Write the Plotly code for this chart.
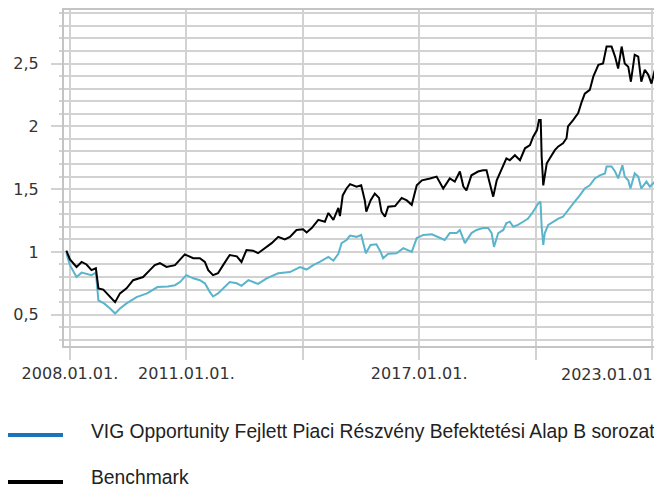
import plotly.graph_objects as go

# ---------------- data ----------------
bench_dates = [
    "2007-11-28", "2008-01-01", "2008-03-03", "2008-04-20", "2008-06-05", "2008-07-22",
    "2008-09-01", "2008-09-25", "2008-11-10", "2008-12-28", "2009-03-01", "2009-04-16",
    "2009-06-17", "2009-08-18", "2009-11-20", "2010-01-22", "2010-03-10", "2010-04-27",
    "2010-06-28", "2010-09-16", "2010-11-02", "2010-12-17", "2011-03-07", "2011-05-08",
    "2011-06-24", "2011-07-26", "2011-09-09", "2011-10-26", "2011-12-13", "2012-02-13",
    "2012-04-20", "2012-06-03", "2012-07-20", "2012-09-20", "2012-11-06", "2013-01-11",
    "2013-03-14", "2013-05-15", "2013-07-16", "2013-09-02", "2013-11-03", "2014-01-04",
    "2014-02-06", "2014-03-26", "2014-05-27", "2014-07-28", "2014-08-30", "2014-10-16",
    "2014-12-02", "2014-12-17", "2015-01-12", "2015-02-17", "2015-03-22", "2015-05-22",
    "2015-07-05", "2015-08-08", "2015-08-22", "2015-10-01", "2015-11-10", "2015-12-20",
    "2016-01-12", "2016-02-14", "2016-03-15", "2016-05-19", "2016-07-20", "2016-09-06",
    "2016-10-23", "2016-12-09", "2017-01-27", "2017-04-13", "2017-06-14", "2017-08-15",
    "2017-10-16", "2017-12-02", "2018-01-19", "2018-02-21", "2018-03-22", "2018-05-08",
    "2018-07-09", "2018-08-25", "2018-09-27", "2018-10-23", "2018-11-29", "2019-01-01",
    "2019-02-17", "2019-04-02", "2019-05-04", "2019-06-21", "2019-08-08", "2019-09-24",
    "2019-11-10", "2019-12-09", "2020-01-15", "2020-02-03", "2020-02-19", "2020-02-28",
    "2020-03-14", "2020-03-28", "2020-04-16", "2020-05-15", "2020-07-01", "2020-08-03",
    "2020-09-16", "2020-10-19", "2020-11-02", "2020-12-20", "2021-02-06", "2021-03-11",
    "2021-04-09", "2021-05-26", "2021-06-28", "2021-08-15", "2021-09-28", "2021-10-31",
    "2021-12-17", "2022-01-19", "2022-02-17", "2022-03-22", "2022-04-20", "2022-05-23",
    "2022-06-17", "2022-07-23", "2022-08-25", "2022-09-23", "2022-10-26", "2022-11-28",
    "2022-12-28", "2023-01-29",
]
bench_values = [
    1.01, 0.94, 0.88, 0.92, 0.90, 0.855,
    0.87, 0.71, 0.70, 0.66, 0.60, 0.67,
    0.71, 0.775, 0.80, 0.855, 0.895, 0.91,
    0.88, 0.895, 0.935, 0.98, 0.95, 0.95,
    0.92, 0.855, 0.815, 0.83, 0.895, 0.975,
    0.965, 0.92, 1.015, 1.01, 0.99, 1.03,
    1.07, 1.12, 1.10, 1.12, 1.175, 1.18,
    1.155, 1.19, 1.255, 1.24, 1.31, 1.255,
    1.35, 1.285, 1.45, 1.505, 1.54, 1.52,
    1.53, 1.41, 1.32, 1.41, 1.465, 1.43,
    1.32, 1.28, 1.36, 1.365, 1.43, 1.41,
    1.375, 1.53, 1.57, 1.585, 1.60, 1.505,
    1.585, 1.56, 1.64, 1.52, 1.49, 1.61,
    1.64, 1.65, 1.65, 1.56, 1.44, 1.57,
    1.665, 1.745, 1.73, 1.77, 1.73, 1.825,
    1.85, 1.915, 1.97, 2.05, 2.05, 1.76,
    1.53, 1.60, 1.705, 1.745, 1.81, 1.84,
    1.865, 1.905, 2.00, 2.05, 2.105, 2.195,
    2.26, 2.29, 2.395, 2.49, 2.50, 2.635,
    2.635, 2.555, 2.46, 2.635, 2.50, 2.475,
    2.355, 2.57, 2.555, 2.355, 2.45, 2.41,
    2.34, 2.45,
]

fund_dates = [
    "2007-11-28", "2008-01-01", "2008-03-03", "2008-04-20", "2008-07-22", "2008-09-01",
    "2008-09-25", "2008-11-17", "2009-01-13", "2009-03-01", "2009-04-16", "2009-06-17",
    "2009-09-19", "2009-12-27", "2010-04-04", "2010-07-11", "2010-09-16", "2010-11-02",
    "2011-01-01", "2011-03-07", "2011-05-08", "2011-06-24", "2011-08-11", "2011-09-09",
    "2011-10-26", "2011-12-13", "2012-02-13", "2012-04-20", "2012-06-03", "2012-08-07",
    "2012-11-06", "2013-01-26", "2013-05-15", "2013-09-02", "2013-12-06", "2014-02-06",
    "2014-04-09", "2014-06-10", "2014-08-30", "2014-10-16", "2014-12-02", "2015-01-01",
    "2015-02-17", "2015-03-22", "2015-05-22", "2015-07-05", "2015-08-18", "2015-10-01",
    "2015-11-25", "2016-01-04", "2016-01-27", "2016-03-15", "2016-06-02", "2016-08-04",
    "2016-10-23", "2016-12-09", "2017-02-10", "2017-04-30", "2017-06-28", "2017-08-29",
    "2017-10-16", "2017-12-20", "2018-01-19", "2018-03-07", "2018-05-08", "2018-06-25",
    "2018-08-25", "2018-10-12", "2018-11-14", "2018-12-06", "2019-01-15", "2019-03-04",
    "2019-04-02", "2019-05-04", "2019-06-06", "2019-07-20", "2019-09-06", "2019-10-23",
    "2019-12-09", "2020-01-26", "2020-02-17", "2020-02-28", "2020-03-14", "2020-03-28",
    "2020-04-30", "2020-06-17", "2020-08-03", "2020-09-16", "2020-11-02", "2020-12-20",
    "2021-02-21", "2021-04-09", "2021-05-26", "2021-07-13", "2021-08-29", "2021-10-16",
    "2021-10-31", "2021-12-17", "2022-01-19", "2022-02-17", "2022-03-29", "2022-04-20",
    "2022-05-23", "2022-06-13", "2022-07-23", "2022-08-25", "2022-09-23", "2022-11-10",
    "2022-12-13", "2023-01-29",
]
fund_values = [
    0.99, 0.895, 0.80, 0.835, 0.815, 0.835,
    0.615, 0.59, 0.55, 0.51, 0.55, 0.59,
    0.64, 0.67, 0.72, 0.725, 0.735, 0.76,
    0.815, 0.79, 0.775, 0.75, 0.68, 0.645,
    0.67, 0.71, 0.76, 0.75, 0.73, 0.775,
    0.745, 0.79, 0.83, 0.84, 0.88, 0.86,
    0.895, 0.92, 0.96, 0.93, 0.985, 1.07,
    1.095, 1.13, 1.12, 1.135, 0.99, 1.055,
    1.06, 1.00, 0.95, 0.985, 0.99, 1.03,
    1.00, 1.11, 1.135, 1.14, 1.12, 1.095,
    1.15, 1.15, 1.175, 1.07, 1.15, 1.175,
    1.19, 1.19, 1.15, 1.04, 1.15, 1.175,
    1.23, 1.24, 1.20, 1.215, 1.24, 1.265,
    1.32, 1.385, 1.40, 1.20, 1.055, 1.15,
    1.215, 1.24, 1.265, 1.28, 1.335, 1.385,
    1.45, 1.505, 1.53, 1.585, 1.61, 1.625,
    1.68, 1.68, 1.64, 1.585, 1.69, 1.60,
    1.57, 1.505, 1.625, 1.60, 1.505, 1.56,
    1.52, 1.56,
]

x_tick_dates = ["2008-01-01", "2011-01-01", "2014-01-01", "2017-01-01", "2020-01-01", "2023-01-01"]
x_tick_labels = ["2008.01.01.", "2011.01.01.", "", "2017.01.01.", "", ""]
x_last_label = "2023.01.01."
y_tick_values = [0.5, 1.0, 1.5, 2.0, 2.5]
y_tick_labels = ["0,5", "1", "1,5", "2", "2,5"]

fund_name = "VIG Opportunity Fejlett Piaci Részvény Befektetési Alap B sorozat"
bench_name = "Benchmark"

# ---------------- layout geometry (window pixels) ----------------
W, H = 662, 487
BODY = 8                       # default page body margin offsets the figure
PLOT_L, PLOT_R, PLOT_T, PLOT_B = 64, 655, 10, 346
ML = PLOT_L - BODY
MT = PLOT_T - BODY
MR = W - (PLOT_R - BODY)
MB = H - (PLOT_B - BODY)
PW = PLOT_R - PLOT_L
PH = PLOT_B - PLOT_T

def px_x(px):
    return (px - PLOT_L) / PW

def px_y(py):
    return (PLOT_B - py) / PH

GRID = "#d2d2d2"
AXIS = "#c4c4c4"
FUND_COLOR = "#5ab4cc"
FUND_LEGEND = "#1b74b9"
TICK_FONT = dict(family="DejaVu Sans", size=16, color="#333333")

fig = go.Figure()
fig.add_trace(go.Scatter(x=fund_dates, y=fund_values, mode="lines", name=fund_name,
                         line=dict(color=FUND_COLOR, width=2), showlegend=False))
fig.add_trace(go.Scatter(x=bench_dates, y=bench_values, mode="lines", name=bench_name,
                         line=dict(color="#000000", width=2), showlegend=False))

fig.update_layout(
    width=W, height=H,
    margin=dict(l=ML, r=MR, t=MT, b=MB, pad=0),
    paper_bgcolor="white", plot_bgcolor="white",
    font=TICK_FONT,
    showlegend=False,
)
fig.update_xaxes(
    type="date", range=["2007-11-06", "2023-01-30"],
    tickmode="array", tickvals=x_tick_dates, ticktext=x_tick_labels,
    ticks="outside", ticklen=12, tickwidth=2, tickcolor=GRID,
    showgrid=True, gridcolor=GRID, gridwidth=2,
    showline=True, linecolor=AXIS, linewidth=2, mirror=True,
    zeroline=False, tickfont=TICK_FONT, automargin=False,
)
fig.update_yaxes(
    range=[0.251, 2.926],
    tickmode="array", tickvals=y_tick_values, ticktext=y_tick_labels,
    ticks="outside", ticklen=11, tickwidth=2, tickcolor=GRID,
    showgrid=True, gridcolor=GRID, gridwidth=2,
    minor=dict(dtick=0.1, tick0=0, ticks="outside", ticklen=3, tickwidth=2,
               tickcolor=GRID, showgrid=True, gridcolor=GRID, gridwidth=2),
    showline=True, linecolor=AXIS, linewidth=2, mirror=True,
    zeroline=False, ticklabelstandoff=9, tickfont=TICK_FONT, automargin=False,
)

# last x label kept inside the picture (right aligned as in the reference)
fig.add_annotation(text=x_last_label, xref="paper", yref="paper",
                   x=px_x(660), y=px_y(374), xanchor="right", yanchor="middle",
                   showarrow=False, font=TICK_FONT)

# custom legend below the plot
legend_items = [(fund_name, FUND_LEGEND, 435, 431.5), (bench_name, "#000000", 482, 477)]
for name, color, line_y, text_y in legend_items:
    fig.add_shape(type="line", xref="paper", yref="paper",
                  x0=px_x(6), x1=px_x(63), y0=px_y(line_y), y1=px_y(line_y),
                  line=dict(color=color, width=4))
    fig.add_annotation(text=name, xref="paper", yref="paper",
                       x=px_x(89), y=px_y(text_y), xanchor="left", yanchor="middle",
                       showarrow=False,
                       font=dict(family="Liberation Sans, Arial", size=19.3, color="#222222"))

fig.write_html("out.html")
